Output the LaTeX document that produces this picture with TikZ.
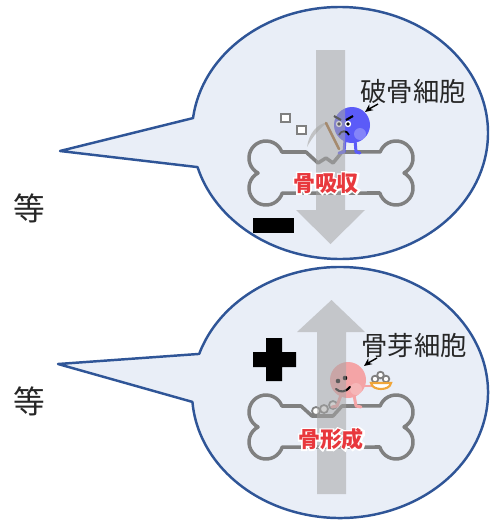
\documentclass[tikz,border=0pt]{standalone}
\usepackage{fontspec}
\setmainfont{Noto Sans CJK JP}
\usepackage{tikz}
\usetikzlibrary{arrows.meta}
\definecolor{BBline}{HTML}{2F5597}
\definecolor{BBfill}{HTML}{E9EEF7}
\definecolor{BoneGray}{HTML}{808080}
\definecolor{ArrGray}{HTML}{A6A6A6}
\definecolor{ClastBlue}{HTML}{5B5BF8}
\definecolor{BlastPink}{HTML}{F4A4A6}
\definecolor{LblRed}{HTML}{E8383D}
\definecolor{StickBrown}{HTML}{A46A2C}
\definecolor{PlateOrange}{HTML}{F0A63A}
\tikzset{
  bubble/.style={draw=BBline, fill=BBfill, line width=1.4pt, line join=round},
  boneline/.style={draw=BoneGray, line width=2pt, line join=round},
  flowarrow/.style={fill=ArrGray, fill opacity=0.55},
  cellname/.style={font=\fontsize{15}{15}\selectfont, text=black!85, inner sep=0pt},
  redlbl/.style={font=\fontsize{12.5}{12.5}\selectfont\bfseries, text=LblRed, inner sep=0pt},
  etclbl/.style={font=\fontsize{18}{18}\selectfont, text=black!85, inner sep=0pt},
  ptrarrow/.style={-{Stealth[length=4.5pt,width=4pt]}, line width=0.8pt, black},
  matrixball/.style={draw=BoneGray, fill=white, line width=1pt},
  limb/.style={line width=1.7pt, line cap=round, line join=round}
}
% red word with a white rim: stroked white copy underneath
\newcommand{\halolabel}[1]{%
  \rlap{\color{white}\special{pdf:literal direct 2 Tr 1.8 w 1 1 1 RG}#1\special{pdf:literal direct 0 Tr}}#1}

\begin{document}
\begin{tikzpicture}[x=0.02cm, y=-0.02cm]
\useasboundingbox (0,0) rectangle (501,521);

% callout bubbles
\draw[bubble] (60,151) -- ([shift={(340,133)}] 186.8:148 and 126)
  arc[start angle=186.8, end angle=524.3, x radius=148, y radius=126] -- cycle;
\draw[bubble] (58,364) -- ([shift={(340,392.5)}] 197.9:148 and 125.5)
  arc[start angle=197.9, end angle=535.7, x radius=148, y radius=125.5] -- cycle;

\node[etclbl] (etc1) at (29,208) {等};
\node[etclbl] (etc2) at (29,401) {等};

% bone, resorbed side
\draw[boneline] (281.9,152) arc[start angle=-20.7, end angle=-242, radius=17]
  arc[start angle=242, end angle=17.1, radius=17] -- (379.8,193)
  arc[start angle=162.9, end angle=-62, radius=17]
  arc[start angle=62, end angle=-159.3, radius=17]
  -- (342,152) -- (333,163) -- (326,158) -- (318,163) -- (306,152) -- cycle;
\draw[matrixball] (281,114) rectangle (290,122);
\draw[matrixball] (297,126) rectangle (306,134);

% osteoclast with pickaxe
\fill[gray!55, opacity=0.8] (307,147) .. controls (309,133) and (317,124) .. (328,122)
  .. controls (320,128) and (313,136) .. cycle;
\draw[StickBrown, line width=1.5pt, line cap=round] (326,123) -- (339,149);
\draw[limb, ClastBlue] (345,140) -- (344,152) -- (339,153);
\draw[limb, ClastBlue] (355,140) -- (356,152) -- (360,153);
\fill[ClastBlue] (352,125) circle[radius=18];
\fill[white, opacity=0.25] (360,134) circle[radius=6];
\foreach \ex in {339,348} {
  \fill[white] (\ex,124) circle[radius=3.2];
  \fill[black] (\ex,124) circle[radius=1.8];
}
\draw[line width=1.2pt] (334,116) -- (341,120) (353,116) -- (346,120);
\draw[line width=1pt] (339,135) .. controls (341,130) and (347,130) .. (349,135);

% bone, formed side
\draw[boneline] (281.9,406) arc[start angle=-20.7, end angle=-242, radius=17]
  arc[start angle=242, end angle=17.1, radius=17] -- (379.8,447)
  arc[start angle=162.9, end angle=-62, radius=17]
  arc[start angle=62, end angle=-159.3, radius=17]
  -- (342,406) -- (333,416) -- (312,416) -- (301,406) -- cycle;
\foreach \bx/\by in {316/411, 324/409, 333/405}
  \draw[matrixball] (\bx,\by) circle[radius=4];

% osteoblast with a dish of matrix
\draw[limb, BlastPink] (341,395) -- (337,406) -- (332,407);
\draw[limb, BlastPink] (354,395) -- (356,406) -- (361,407);
\draw[limb, BlastPink] (362,386) -- (373,386);
\fill[BlastPink] (348,380) circle[radius=18];
\fill[white, opacity=0.2] (356,389) circle[radius=6];
\fill[black] (338,381) circle[radius=2.3] (345,378) circle[radius=2.3];
\draw[line width=1.2pt, line cap=round] (336,389) .. controls (340,393) and (346,392) .. (350,387);
\foreach \bx/\by in {375/379, 386/379, 380.5/375}
  \draw[matrixball] (\bx,\by) circle[radius=3.3];
\draw[draw=PlateOrange, fill=white, line width=1.2pt] (371,383) -- (391,383)
  .. controls (390,391) and (372,391) .. cycle;

% direction arrows
\fill[flowarrow] (316,50) -- (345,50) -- (345,210) -- (365,210) -- (330.5,244)
  -- (296,210) -- (316,210) -- cycle;
\fill[flowarrow] (317,494) -- (346,494) -- (346,332) -- (365,332) -- (331.5,300)
  -- (297,332) -- (317,332) -- cycle;

\fill[black] (253,218) rectangle (294,233);
\fill[black] (266,338) rectangle (282,381) (253,352) rectangle (296,367);

% cell names
\node[cellname] (clast) at (413,91) {破骨細胞};
\node[cellname] (blast) at (414,345) {骨芽細胞};
\coordinate (clastcell) at (365,112);
\coordinate (blastcell) at (364,366);
\draw[ptrarrow] (378,104) .. controls (373,106) .. (clastcell);
\draw[ptrarrow] (377,358) .. controls (372,360) .. (blastcell);

\node[redlbl] (resorb) at (326,183) {\halolabel{骨吸収}};
\node[redlbl] (form) at (331,439) {\halolabel{骨形成}};
\end{tikzpicture}
\end{document}
